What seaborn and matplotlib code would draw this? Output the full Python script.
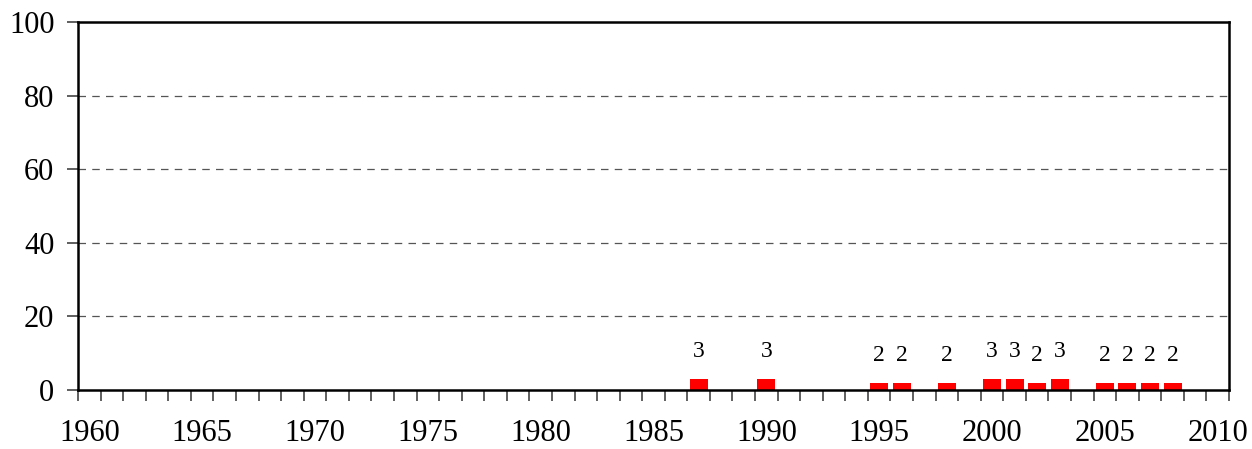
import matplotlib
matplotlib.use("Agg")
import matplotlib.pyplot as plt
import seaborn as sns
import pandas as pd
import numpy as np

years_all = [str(y) for y in range(1960, 2011)]
bar_years = ["1987", "1990", "1995", "1996", "1998", "2000", "2001", "2002", "2003",
             "2005", "2006", "2007", "2008"]
bar_values = [3, 3, 2, 2, 2, 3, 3, 2, 3, 2, 2, 2, 2]
y_ticks = [0, 20, 40, 60, 80, 100]
x_label_years = [str(y) for y in range(1960, 2011, 5)]

sns.set_theme(style="white")
plt.rcParams['font.family'] = ['Liberation Serif', 'DejaVu Serif']
plt.rcParams['text.color'] = 'black'
plt.rcParams['xtick.labelcolor'] = 'black'
plt.rcParams['ytick.labelcolor'] = 'black'

df = pd.DataFrame({"year": bar_years, "value": bar_values})

fig = plt.figure(figsize=(12.52, 4.49), dpi=100)
ax = fig.add_axes([78/1252, 1 - 390/449, (1229-78)/1252, (390-22)/449])

sns.barplot(data=df, x="year", y="value", order=years_all, color="#ff0000",
            saturation=1, width=0.8, ax=ax, linewidth=0)

ax.set_xlim(-0.5, len(years_all) - 0.5)
ax.set_ylim(0, 100)
ax.set_xlabel("")
ax.set_ylabel("")

# gridlines
for v in y_ticks[1:-1]:
    ax.axhline(v, color="#555555", linestyle=(0, (6, 5)), linewidth=0.9, zorder=0)

# y axis ticks
ax.set_yticks(y_ticks)
ax.set_yticklabels([str(v) for v in y_ticks], fontsize=22)
ax.tick_params(axis="y", direction="out", length=8, width=1.2, color="#444444", pad=9, left=True)

# x axis: labels at category centers, tick marks at category boundaries
major_pos = [years_all.index(y) for y in x_label_years]
ax.set_xticks(major_pos)
ax.set_xticklabels(x_label_years, fontsize=22)
ax.set_xticks(np.arange(-0.5, len(years_all), 1.0), minor=True)
ax.tick_params(axis="x", which="major", length=0, pad=21, bottom=True)
ax.tick_params(axis="x", which="minor", direction="out", length=8, width=1.2,
               color="#444444", bottom=True)

for s in ax.spines.values():
    s.set_visible(True)
    s.set_color("black")
    s.set_linewidth(1.8)

# value labels
for yr, v in zip(bar_years, bar_values):
    ax.annotate(str(v), (years_all.index(yr), v), xytext=(0, 12),
                textcoords="offset points", ha="center", va="bottom", fontsize=17)

fig.savefig("out.png", dpi=100)
